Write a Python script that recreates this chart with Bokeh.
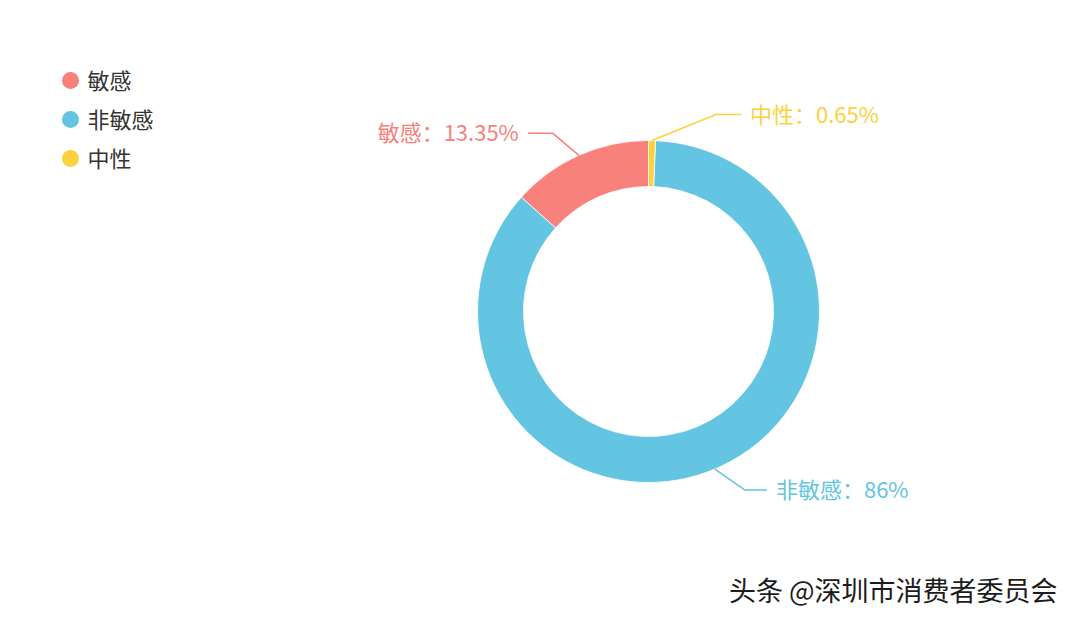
import math
from bokeh.plotting import figure
from bokeh.models import Range1d
from bokeh.core.properties import value
from bokeh.embed import file_html
from bokeh.resources import INLINE

# ---- data ----
categories = ["敏感", "非敏感", "中性"]
shares = [13.35, 86.0, 0.65]
share_labels = ["13.35%", "86%", "0.65%"]
colors = ["#F8817B", "#63C5E2", "#FCD13C"]
watermark = "头条 @深圳市消费者委员会"

# ---- layout (screenshot pixel frame: y measured downward, converted below) ----
W, H = 1064, 606
PAGE_H = 622
def Y(py):
    return PAGE_H - py

cx, cy = 648, Y(311)
r_out, r_in = 171, 125
# elbow offsets of label lines relative to slice edge point (dx, dy in px) and horizontal run
elbow = [(-26, -22), (30, 21), (64, -26)]
run = [25, 22, 25]
FONT = "Noto Sans CJK SC"

p = figure(width=W, height=H, x_range=Range1d(0, W), y_range=Range1d(PAGE_H - H, PAGE_H),
           output_backend="svg", toolbar_location=None, min_border=0)
p.axis.visible = False
p.grid.visible = False
p.outline_line_color = None
p.background_fill_color = "white"
p.border_fill_color = "white"

total = sum(shares)
cum = 0.0
for i, (cat, s) in enumerate(zip(categories, shares)):
    f0 = cum / total
    f1 = (cum + s) / total
    cum += s
    # counterclockwise from 12 o'clock
    a0 = math.pi / 2 + 2 * math.pi * f0
    a1 = math.pi / 2 + 2 * math.pi * f1
    p.annular_wedge(x=cx, y=cy, inner_radius=r_in, outer_radius=r_out,
                    start_angle=a0, end_angle=a1, fill_color=colors[i],
                    line_color="white", line_width=0.8)
    am = (a0 + a1) / 2
    x0 = cx + r_out * math.cos(am)
    y0 = cy + r_out * math.sin(am)
    dx, dy = elbow[i]
    x1, y1 = x0 + dx, y0 - dy
    side = 1 if dx > 0 else -1
    x2 = x1 + side * run[i]
    p.line([x0, x1, x2], [y0, y1, y1], line_color=colors[i], line_width=1.5)
    p.text(x=[x2 + side * 9], y=[y1 + 2], text=[f"{cat}：{share_labels[i]}"],
           text_font=value(FONT), text_font_size="22px", text_color=colors[i],
           text_align="left" if side > 0 else "right", text_baseline="middle")

# legend
for i, cat in enumerate(categories):
    ly = Y(80 + 39 * i)
    p.scatter(x=[70], y=[ly], size=17, marker="circle", fill_color=colors[i], line_color=None)
    p.text(x=[87], y=[ly + 2], text=[cat], text_font=value(FONT), text_font_size="22px",
           text_color="#333333", text_align="left", text_baseline="middle")

# watermark
p.text(x=[1057], y=[Y(589)], text=[watermark], text_font=value(FONT), text_font_size="27px",
       text_color="#1c1c1c", text_align="right", text_baseline="middle")

open("out.html", "w").write(file_html(p, INLINE))
